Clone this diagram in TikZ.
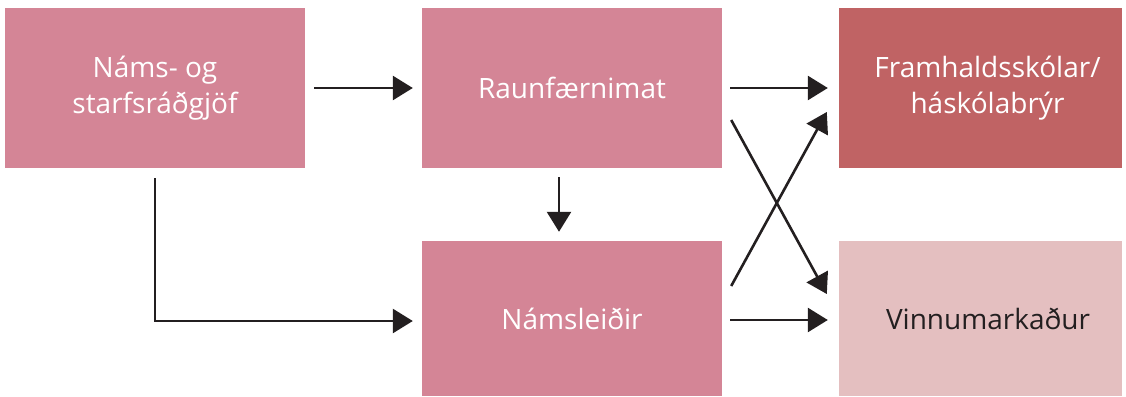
\documentclass[tikz,border=0pt]{standalone}
\usepackage{fontspec}
\setmainfont{Open Sans}
\usetikzlibrary{arrows.meta,calc}
\definecolor{boxpink}{HTML}{D48596}
\definecolor{boxred}{HTML}{C06364}
\definecolor{boxlight}{HTML}{E4BFC0}
\definecolor{ink}{HTML}{231F20}
\tikzset{
  stage/.style={fill=boxpink, draw=none, inner sep=0pt, align=center,
    font=\fontsize{28}{36}\selectfont, text=white,
    minimum width=300pt, minimum height=160pt},
  flow/.style={draw=ink, line width=2.6pt, -{Triangle[length=20pt,width=24pt]}},
}
\begin{document}
\begin{tikzpicture}[x=1pt,y=-1pt]
\useasboundingbox (0,0) rectangle (1126,396);
\node[stage] (b1) at (155,88) {Náms- og\\starfsráðgjöf};
\node[stage] (b2) at (572,88) {Raunfærnimat};
\node[stage, fill=boxred, minimum width=283pt] (b3) at (980.5,88) {\hspace*{14pt}Framhaldsskólar/\\\hspace*{14pt}háskólabrýr};
\node[stage, minimum height=155pt] (b4) at (572,318.5) {Námsleiðir};
\node[stage, fill=boxlight, text=ink, minimum width=283pt, minimum height=155pt] (b5) at (980.5,318.5) {\hspace*{15pt}Vinnumarkaður};

\draw[flow, shorten <=9pt, shorten >=9pt] (b1.east) -- (b2.west);
\draw[flow, shorten <=8pt, shorten >=11pt] (b2.east) -- (b3.west);
\draw[flow] ($(b2.south)+(-13,9)$) -- ($(b4.north)+(-13,-9)$);
\draw[flow, line join=miter] ($(b1.south)+(0,10)$) |- ($(b4.west)+(-9,2.5)$);
\draw[flow] ($(b2.east)+(9,32)$) -- ($(b5.west)+(-12,-24.5)$);
\draw[flow] ($(b4.east)+(9,-32.5)$) -- ($(b3.west)+(-12,24)$);
\draw[flow] ($(b4.east)+(8,1.5)$) -- ($(b5.west)+(-11,1.5)$);
\end{tikzpicture}
\end{document}
